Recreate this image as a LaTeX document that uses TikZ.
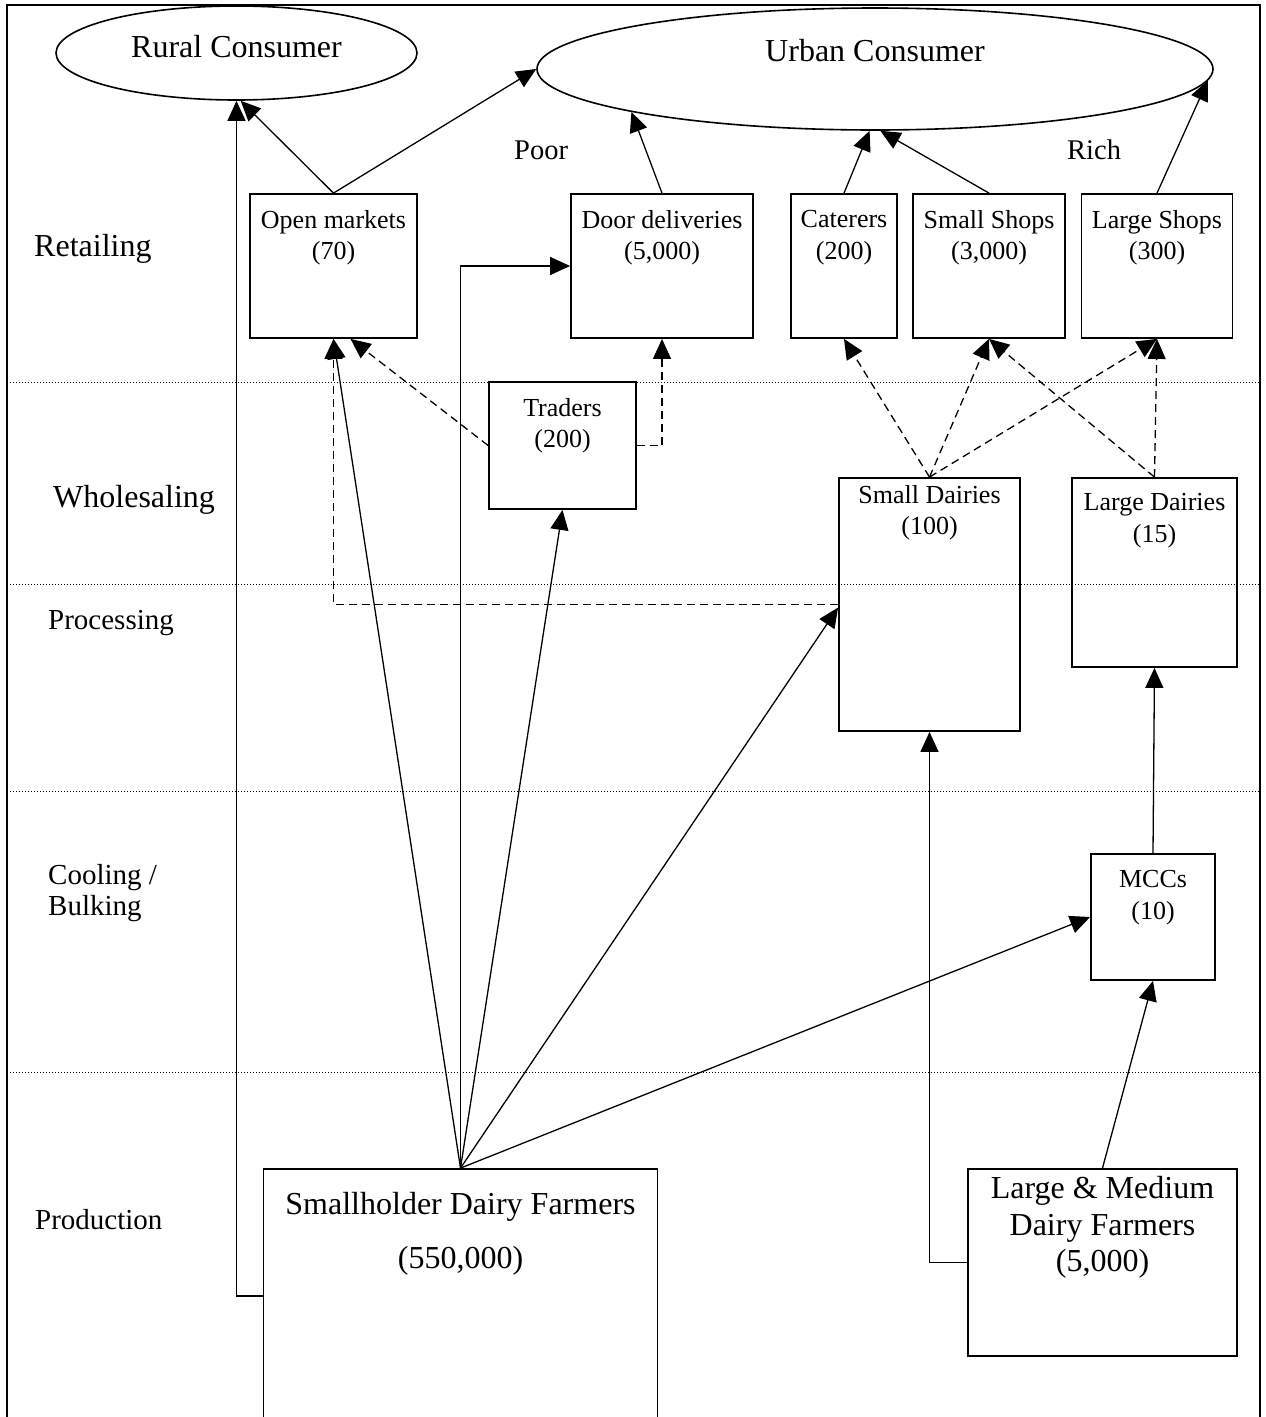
\documentclass[tikz,border=0pt]{standalone}
\usepackage{fontspec}
\setmainfont{Liberation Serif}
\usetikzlibrary{shapes.geometric,arrows.meta}

\tikzset{
  box/.style={draw, rectangle, line width=1.8pt, inner sep=0pt},
  consumer/.style={draw, ellipse, line width=1.6pt, inner sep=0pt},
  flow/.style={line width=1.3pt, -{Triangle[length=20pt,width=18pt]}},
  dflow/.style={flow, dash pattern=on 8pt off 5pt},
  level/.style={line width=1pt, dash pattern=on 1pt off 2pt},
  boxtxt/.style={below, align=center, inner sep=0pt, font=\fontsize{26}{31.5}\selectfont},
  bigtxt/.style={align=center, inner sep=0pt, font=\fontsize{32}{36.5}\selectfont},
  stagetxt/.style={anchor=base west, align=left, inner sep=0pt, font=\fontsize{29}{31.5}\selectfont},
}

\begin{document}
\begin{tikzpicture}[x=1pt,y=-1pt]
\useasboundingbox (0,0) rectangle (1266,1417);

% frame
\draw[line width=1.6pt] (7,1417) -- (7,5) -- (1260,5) -- (1260,1417);

% stage lines
\draw[level] (7,382) -- (1260,382);
\draw[level] (7,584) -- (1260,584);
\draw[level] (7,791) -- (1260,791);
\draw[level] (7,1072) -- (1260,1072);

% stage labels
\node[stagetxt, font=\fontsize{32}{36}\selectfont] (retailing) at (34,256) {Retailing};
\node[stagetxt, font=\fontsize{32}{36}\selectfont] (wholesaling) at (53,507) {Wholesaling};
\node[stagetxt] (processing) at (48,629) {Processing};
\node[stagetxt, anchor=north west] (cooling) at (48,864) {Cooling /\\Bulking};
\node[stagetxt] (production) at (35,1229) {Production};

% rural consumer node
\node[consumer, minimum width=361pt, minimum height=94pt] (rural) at (236.5,53) {};
\node[bigtxt] (rural text) at ([yshift=6pt]rural.center) {Rural Consumer};

% urban consumer node
\node[consumer, minimum width=676pt, minimum height=122pt] (urban) at (875,69) {};
\node[bigtxt] (urban text) at ([yshift=18pt]urban.center) {Urban Consumer};

\node[stagetxt, font=\fontsize{28.5}{31}\selectfont] (poor) at (514,159) {Poor};
\node[stagetxt, font=\fontsize{28.5}{31}\selectfont] (rich) at (1067,159) {Rich};

% retail nodes
\node[box, minimum width=167pt, minimum height=144pt] (open markets) at (333.5,266) {};
\node[boxtxt] (open markets text) at ([yshift=-17pt]open markets.north) {Open markets\\(70)};

\node[box, minimum width=182pt, minimum height=144pt] (door) at (662,266) {};
\node[boxtxt] (door text) at ([yshift=-17pt]door.north) {Door deliveries\\(5,000)};

\node[box, minimum width=106pt, minimum height=144pt] (caterers) at (844,266) {};
\node[boxtxt] (caterers text) at ([yshift=-17pt]caterers.north) {Caterers\\(200)};

\node[box, minimum width=152pt, minimum height=144pt] (small shops) at (989,266) {};
\node[boxtxt] (small shops text) at ([yshift=-17pt]small shops.north) {Small Shops\\(3,000)};

\node[box, minimum width=151pt, minimum height=144pt] (large shops) at (1157,266) {};
\node[boxtxt] (large shops text) at ([yshift=-17pt]large shops.north) {Large Shops\\(300)};

% wholesale and processing nodes
\node[box, minimum width=147pt, minimum height=127pt] (traders) at (562.5,445.5) {};
\node[boxtxt] (traders text) at ([yshift=-17pt]traders.north) {Traders\\(200)};

\node[box, minimum width=181pt, minimum height=253pt] (small dairies) at (929.5,604.5) {};
\node[boxtxt] (small dairies text) at ([yshift=-8pt]small dairies.north) {Small Dairies\\(100)};

\node[box, minimum width=165pt, minimum height=189pt] (large dairies) at (1154.5,572.5) {};
\node[boxtxt] (large dairies text) at ([yshift=-16pt]large dairies.north) {Large Dairies\\(15)};

% cooling node
\node[box, minimum width=124pt, minimum height=126pt] (mcc) at (1153,917) {};
\node[boxtxt] (mcc text) at ([yshift=-17pt]mcc.north) {MCCs\\(10)};

% farmer nodes
\node[box, minimum width=394pt, minimum height=254pt] (smallholder) at (460.5,1296) {};
\node[bigtxt, below, font=\fontsize{32}{54}\selectfont] (smallholder text) at ([yshift=-24pt]smallholder.north) {Smallholder Dairy Farmers\\(550,000)};

\node[box, minimum width=269pt, minimum height=187pt] (lm) at (1102.5,1262.5) {};
\node[bigtxt, below] (lm text) at ([yshift=-8pt]lm.north) {Large \& Medium\\Dairy Farmers\\(5,000)};

% retail to consumers
\draw[flow] (open markets.north) -- (rural.-85);
\draw[flow] (open markets.north) -- (urban.west);
\draw[flow] (door.north) -- (urban.190);
\draw[flow] (caterers.north) -- (urban.-95);
\draw[flow] (small shops.north) -- (urban.-85);
\draw[flow] (large shops.north) -- (urban.-2);

% smallholder flows
\draw[flow] (smallholder.west) -| (rural.south);
\draw[flow] (smallholder.north) -- (open markets.south);
\draw[flow] (smallholder.north) |- (door.west);
\draw[flow] (smallholder.north) -- (traders.south);
\draw[flow] (smallholder.north) -- ([yshift=-3pt]small dairies.west);
\draw[flow] (smallholder.north) -- (mcc.west);

% large and medium flows
\draw[flow] (lm.west) -| (small dairies.south);
\draw[flow] (lm.north) -- (mcc.south);
\draw[flow] (mcc.north) -- (large dairies.south);

% dashed flows
\draw[dflow] (traders.west) -- ([xshift=17pt]open markets.south);
\draw[dflow] (traders.east) -| (door.south);
\draw[dflow] (small dairies.west) -| (open markets.south);
\draw[dflow] (small dairies.north) -- (caterers.south);
\draw[dflow] (small dairies.north) -- (small shops.south);
\draw[dflow] (small dairies.north) -- (large shops.south);
\draw[dflow] (large dairies.north) -- (small shops.south);
\draw[dflow] (large dairies.north) -- (large shops.south);

\end{tikzpicture}
\end{document}
